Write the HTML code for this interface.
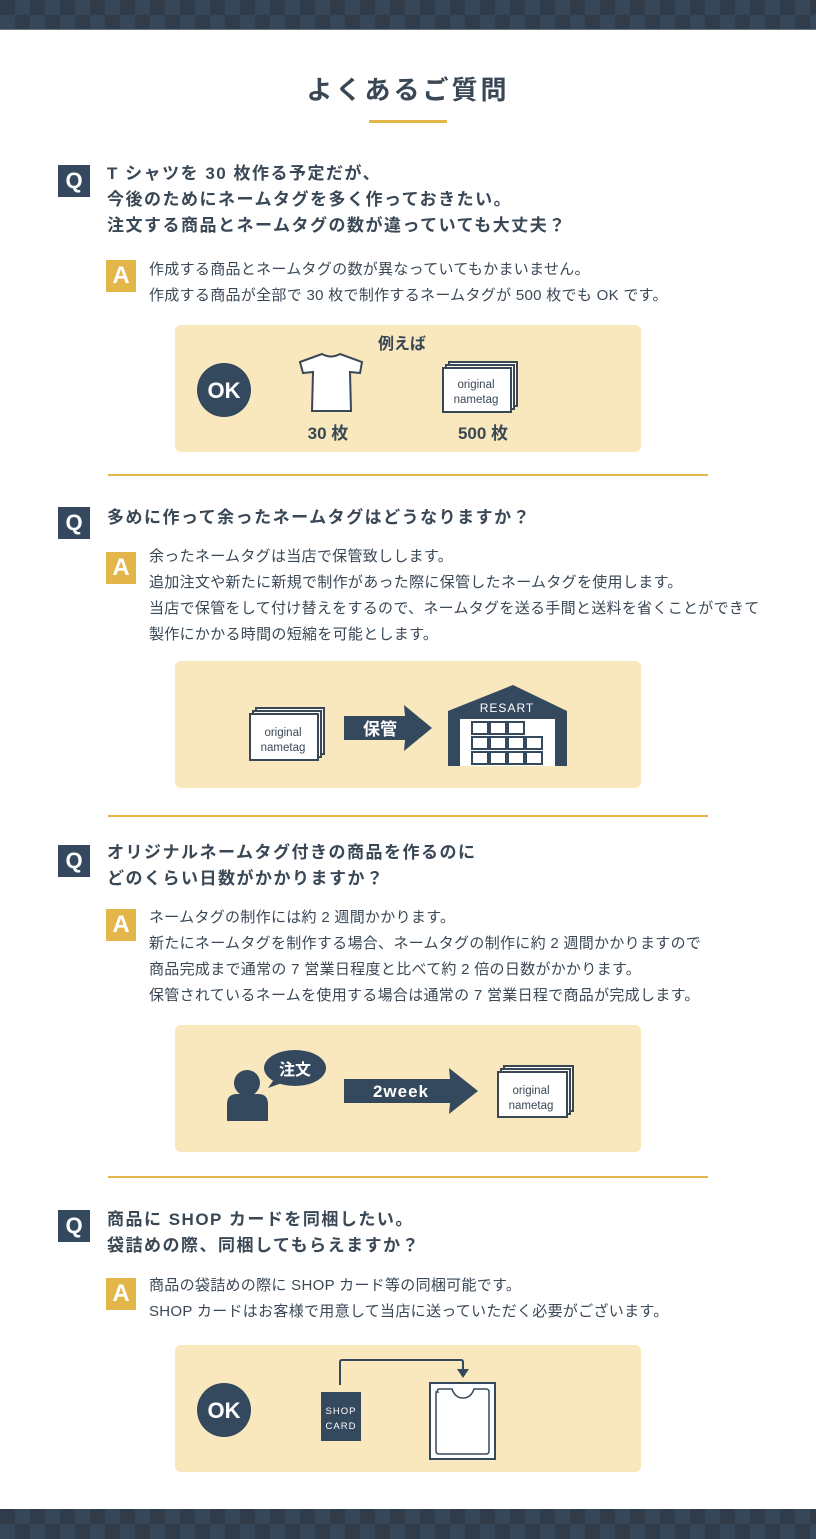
<!DOCTYPE html>
<html><head><meta charset="utf-8"><style>
*{margin:0;padding:0;box-sizing:border-box}
body{width:816px;height:1539px;position:relative;background:#fff;font-family:"Liberation Sans","Noto Sans CJK JP",sans-serif;color:#3a4856;overflow:hidden}
.band{position:absolute;left:0;width:816px;height:30px;background-color:#303c49;background-image:linear-gradient(45deg,#36475a 25%,transparent 25%,transparent 75%,#36475a 75%),linear-gradient(45deg,#36475a 25%,transparent 25%,transparent 75%,#36475a 75%);background-size:30px 30px;background-position:0 0,15px 15px}
.ab{position:absolute}
.q{position:absolute;left:58px;width:32px;height:32px;background:#34495e;color:#fff;font-weight:bold;font-size:22px;text-align:center;line-height:32px}
.a{position:absolute;left:106px;width:30px;height:32px;background:#e3b64a;color:#fff;font-weight:bold;font-size:24px;text-align:center;line-height:32px}
.qt{position:absolute;left:107px;font-size:17px;font-weight:bold;line-height:26px;letter-spacing:1.5px;white-space:nowrap}
.at{position:absolute;left:149px;font-size:15px;letter-spacing:0.3px;line-height:26px;white-space:nowrap;color:#3a4856}
.panel{position:absolute;left:175px;width:466px;height:127px;background:#f9e7bd;border-radius:6px}
.sep{position:absolute;left:108px;width:600px;height:2px;background:#e3b64a}
</style></head><body>
<div class="band" style="top:0;height:29px"></div>
<div class="ab" style="top:29px;left:0;width:816px;height:1px;background:#6c7580"></div>
<div class="ab" style="top:70px;left:0;width:816px;text-align:center;font-size:26px;font-weight:bold;letter-spacing:3px">よくあるご質問</div>
<div class="ab" style="top:120px;left:369px;width:78px;height:3px;background:#e3b64a"></div>

<div class="q" style="top:165px">Q</div>
<div class="qt" style="top:161px">T シャツを 30 枚作る予定だが、<br>今後のためにネームタグを多く作っておきたい。<br>注文する商品とネームタグの数が違っていても大丈夫？</div>
<div class="a" style="top:260px">A</div>
<div class="at" style="top:257px">作成する商品とネームタグの数が異なっていてもかまいません。<br>作成する商品が全部で 30 枚で制作するネームタグが 500 枚でも OK です。</div>
<div class="panel" style="top:325px"></div>
<svg class="ab" style="left:0;top:0" width="816" height="1539" font-family="Liberation Sans, Noto Sans CJK JP, sans-serif">
<text x="402" y="349" font-size="16" font-weight="bold" fill="#3a4856" text-anchor="middle">例えば</text>
<circle cx="224" cy="390" r="27" fill="#34495e"/><text x="224" y="398" font-size="22" font-weight="bold" fill="#fff" text-anchor="middle">OK</text>
<path d="M300,362 L322,354 Q331,359 340,354 L362,362 L360,373 L350,372 L351,411 L312,411 L313,372 L303,373 Z" fill="#fff" stroke="#3a4856" stroke-width="2"/>
<text x="328" y="439" font-size="17" font-weight="bold" fill="#3a4856" text-anchor="middle">30 枚</text>
<rect x="449" y="362" width="68" height="44" fill="#fff" stroke="#3a4856" stroke-width="2"/>
<rect x="446" y="365" width="68" height="44" fill="#fff" stroke="#3a4856" stroke-width="2"/>
<rect x="443" y="368" width="68" height="44" fill="#fff" stroke="#3a4856" stroke-width="2"/>
<text x="476" y="388" font-size="11.5" fill="#3a4856" text-anchor="middle">original</text>
<text x="476" y="403" font-size="11.5" fill="#3a4856" text-anchor="middle">nametag</text>
<text x="483" y="439" font-size="17" font-weight="bold" fill="#3a4856" text-anchor="middle">500 枚</text>

<rect x="256" y="708" width="68" height="46" fill="#fff" stroke="#3a4856" stroke-width="2"/>
<rect x="253" y="711" width="68" height="46" fill="#fff" stroke="#3a4856" stroke-width="2"/>
<rect x="250" y="714" width="68" height="46" fill="#fff" stroke="#3a4856" stroke-width="2"/>
<text x="283" y="736" font-size="11.5" fill="#3a4856" text-anchor="middle">original</text>
<text x="283" y="751" font-size="11.5" fill="#3a4856" text-anchor="middle">nametag</text>
<path d="M344,716 L405,716 L404,705 L432,728 L404,751 L405,740 L344,740 Z" fill="#34495e"/>
<text x="380" y="735" font-size="17" font-weight="bold" fill="#fff" text-anchor="middle">保管</text>
<path d="M448,711 L513,685 L567,711 L567,766 L448,766 Z" fill="#34495e"/>
<rect x="460" y="719" width="95" height="47" fill="#fff"/>
<text x="507" y="712" font-size="12" fill="#fff" text-anchor="middle" letter-spacing="1">RESART</text>
<g fill="#fff" stroke="#34495e" stroke-width="2">
<rect x="472" y="722" width="16" height="12"/><rect x="490" y="722" width="16" height="12"/><rect x="508" y="722" width="16" height="12"/>
<rect x="472" y="737" width="16" height="12"/><rect x="490" y="737" width="16" height="12"/><rect x="508" y="737" width="16" height="12"/><rect x="526" y="737" width="16" height="12"/>
<rect x="472" y="752" width="16" height="12"/><rect x="490" y="752" width="16" height="12"/><rect x="508" y="752" width="16" height="12"/><rect x="526" y="752" width="16" height="12"/>
</g>
</svg>

<div class="sep" style="top:474px"></div>
<div class="q" style="top:507px">Q</div>
<div class="qt" style="top:505px">多めに作って余ったネームタグはどうなりますか？</div>
<div class="a" style="top:552px">A</div>
<div class="at" style="top:544px">余ったネームタグは当店で保管致しします。<br>追加注文や新たに新規で制作があった際に保管したネームタグを使用します。<br>当店で保管をして付け替えをするので、ネームタグを送る手間と送料を省くことができて<br>製作にかかる時間の短縮を可能とします。</div>
<div class="panel" style="top:661px;z-index:-1"></div>

<div class="sep" style="top:815px"></div>
<div class="q" style="top:845px">Q</div>
<div class="qt" style="top:840px">オリジナルネームタグ付きの商品を作るのに<br>どのくらい日数がかかりますか？</div>
<div class="a" style="top:909px">A</div>
<div class="at" style="top:905px">ネームタグの制作には約 2 週間かかります。<br>新たにネームタグを制作する場合、ネームタグの制作に約 2 週間かかりますので<br>商品完成まで通常の 7 営業日程度と比べて約 2 倍の日数がかかります。<br>保管されているネームを使用する場合は通常の 7 営業日程で商品が完成します。</div>
<div class="panel" style="top:1025px;z-index:-1"></div>

<div class="sep" style="top:1176px"></div>
<div class="q" style="top:1210px">Q</div>
<div class="qt" style="top:1207px">商品に SHOP カードを同梱したい。<br>袋詰めの際、同梱してもらえますか？</div>
<div class="a" style="top:1278px">A</div>
<div class="at" style="top:1273px">商品の袋詰めの際に SHOP カード等の同梱可能です。<br>SHOP カードはお客様で用意して当店に送っていただく必要がございます。</div>
<div class="panel" style="top:1345px;z-index:-1"></div>

<svg class="ab" style="left:0;top:0" width="816" height="1539" font-family="Liberation Sans, Noto Sans CJK JP, sans-serif">
<circle cx="247" cy="1083" r="13" fill="#34495e"/>
<path d="M227,1121 L227,1104 Q227,1094 237,1094 L258,1094 Q268,1094 268,1104 L268,1121 Z" fill="#34495e"/>
<ellipse cx="295" cy="1068" rx="31" ry="18" fill="#34495e"/>
<path d="M275,1078 L268,1088 L285,1082 Z" fill="#34495e"/>
<text x="295" y="1075" font-size="16" font-weight="bold" fill="#fff" text-anchor="middle">注文</text>
<path d="M344,1079 L450,1079 L449,1068 L478,1091 L449,1114 L450,1103 L344,1103 Z" fill="#34495e"/>
<text x="401" y="1097" font-size="17" font-weight="bold" fill="#fff" text-anchor="middle" letter-spacing="1">2week</text>
<rect x="504" y="1066" width="69" height="45" fill="#fff" stroke="#3a4856" stroke-width="2"/>
<rect x="501" y="1069" width="69" height="45" fill="#fff" stroke="#3a4856" stroke-width="2"/>
<rect x="498" y="1072" width="69" height="45" fill="#fff" stroke="#3a4856" stroke-width="2"/>
<text x="531" y="1094" font-size="11.5" fill="#3a4856" text-anchor="middle">original</text>
<text x="531" y="1109" font-size="11.5" fill="#3a4856" text-anchor="middle">nametag</text>
<circle cx="224" cy="1410" r="27" fill="#34495e"/><text x="224" y="1418" font-size="22" font-weight="bold" fill="#fff" text-anchor="middle">OK</text>
<rect x="321" y="1392" width="40" height="49" fill="#34495e"/>
<text x="341" y="1414" font-size="9.5" fill="#fff" text-anchor="middle" letter-spacing="1">SHOP</text>
<text x="341" y="1429" font-size="9.5" fill="#fff" text-anchor="middle" letter-spacing="1">CARD</text>
<path d="M340,1385 L340,1362 Q340,1360 342,1360 L461,1360 Q463,1360 463,1362 L463,1370" fill="none" stroke="#34495e" stroke-width="2"/>
<path d="M457,1369 L469,1369 L463,1378 Z" fill="#34495e"/>
<rect x="430" y="1383" width="65" height="76" fill="#fff" stroke="#34495e" stroke-width="2"/>
<path d="M438,1392 Q436,1389 440,1389 L452,1389 Q455,1398 463,1398 Q471,1398 474,1389 L486,1389 Q489,1389 489,1392 L489,1451 Q489,1454 486,1454 L439,1454 Q436,1454 436,1451 L436,1392 Z" fill="#fff" stroke="#34495e" stroke-width="1.5"/>
</svg>

<div class="band" style="top:1509px"></div>
</body></html>
